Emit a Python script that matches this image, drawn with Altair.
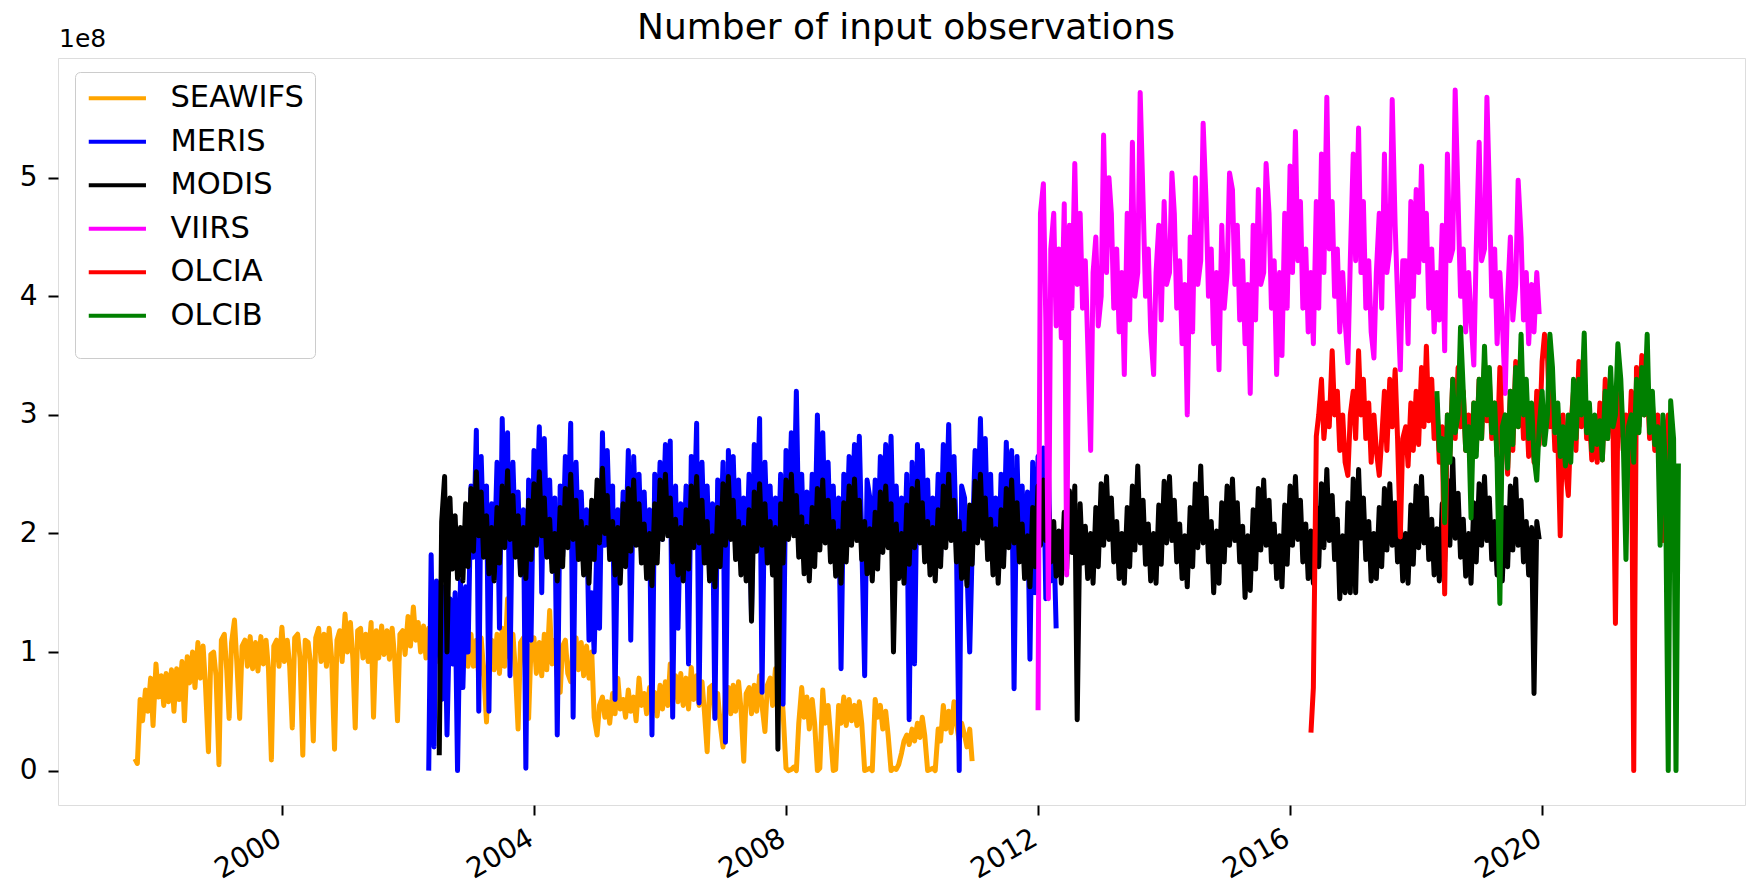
import altair as alt
import pandas as pd

# values in units of 1e6, semi-monthly samples (1st and 15th of each month)
SERIES = ["SEAWIFS", "MERIS", "MODIS", "VIIRS", "OLCIA", "OLCIB"]
COLORS = ["#FFA500", "#0000FF", "#000000", "#FF00FF", "#FF0000", "#008000"]
STARTS = ["1997-09-01", "2002-05-01", "2002-07-01", "2012-01-01", "2016-05-01", "2018-05-01"]

seawifs = [
    10, 6, 60, 42, 68, 50, 78, 38,
    90, 62, 80, 55, 82, 58, 85, 50, 86, 60, 92, 42, 96, 74, 100, 70, 108, 78, 105, 72, 16, 98, 100, 80,
    5, 110, 115, 85, 44, 108, 127, 90, 44, 105, 110, 88, 113, 86, 108, 84, 113, 90, 110, 86, 9, 105, 110, 88,
    121, 92, 110, 88, 36, 112, 115, 95, 13, 110, 108, 90, 25, 112, 120, 92, 115, 88, 120, 95, 18, 110, 118, 92,
    132, 100, 125, 95, 36, 118, 120, 95, 115, 92, 125, 45, 118, 95, 122, 98, 118, 94, 120, 96, 42, 115, 118, 98,
    130, 105, 138, 110, 125, 100, 122, 95, 120, 98, 118, 92, 126, 80, 120, 95, 128, 98, 118, 90, 125, 95, 118, 88,
    115, 88, 110, 80, 112, 85, 41, 105, 110, 85, 115, 82, 120, 88, 145, 95, 115, 85, 35, 108, 112, 82, 44, 105,
    112, 82, 108, 80, 115, 85, 135, 90, 110, 80, 66, 105, 110, 82, 75, 108, 112, 85, 108, 80, 105, 78, 100, 45,
    30, 55, 62, 45, 58, 40, 65, 48, 78, 52, 60, 45, 68, 50, 62, 42, 78, 55, 65, 48, 70, 50, 66, 46,
    72, 52, 75, 55, 90, 60, 80, 58, 82, 55, 78, 52, 87, 60, 80, 55, 75, 50, 16, 70, 72, 45, 65, 40,
    20, 68, 70, 48, 72, 50, 75, 52, 8, 65, 70, 48, 72, 50, 80, 55, 33, 72, 78, 55, 86, 60, 75, 50,
    2, 0, 1, 3, 0, 40, 70, 45, 62, 35, 60, 40, 0, 2, 68, 40, 55, 30, 0, 1, 55, 40, 62, 38,
    60, 42, 55, 38, 58, 40, 0, 1, 2, 0, 60, 45, 55, 35, 50, 30, 0, 2, 1, 5, 15, 25, 30, 22,
    35, 25, 40, 28, 45, 30, 0, 1, 2, 0, 35, 25, 55, 35, 50, 32, 58, 40, 25, 40, 30, 20, 35, 8,
]

meris = [
    0, 182, 20, 160, 130, 60, 155, 30, 145, 90, 150, 0, 160, 70, 155, 100,
    240, 180, 287, 50, 265, 195, 240, 50, 225, 170, 260, 120, 297, 200, 285, 80, 260, 195, 235, 170, 220, 2, 245, 110,
    270, 200, 290, 150, 280, 195, 245, 175, 230, 30, 240, 180, 265, 200, 293, 45, 260, 190, 235, 175, 220, 110, 150, 100,
    200, 120, 285, 190, 270, 200, 240, 60, 220, 165, 235, 180, 270, 110, 265, 200, 250, 185, 235, 170, 220, 30, 250, 185,
    260, 195, 275, 205, 278, 45, 240, 120, 225, 165, 240, 90, 265, 195, 293, 57, 260, 190, 240, 175, 225, 44, 245, 180,
    260, 24, 270, 200, 265, 195, 245, 175, 230, 170, 250, 130, 275, 200, 297, 66, 260, 195, 240, 175, 230, 170, 250, 56,
    270, 205, 285, 210, 320, 200, 250, 180, 235, 170, 250, 185, 300, 200, 285, 205, 260, 190, 240, 175, 230, 86, 250, 185,
    265, 200, 275, 205, 282, 195, 80, 245, 230, 170, 245, 180, 265, 195, 275, 200, 282, 190, 240, 175, 230, 165, 250, 43,
    260, 90, 275, 205, 270, 195, 245, 175, 230, 170, 250, 180, 275, 200, 292, 195, 265, 190, 0, 240, 230, 170, 100, 185,
    270, 205, 297, 210, 280, 195, 250, 175, 230, 165, 250, 180, 277, 200, 270, 69, 265, 190, 240, 175, 235, 94, 260, 150,
    265, 195, 272, 145, 255, 160, 200, 120,
]

modis = [
    13, 210, 248, 100, 230, 170, 215, 162, 205, 160, 225, 172,
    238, 185, 252, 198, 235, 180, 215, 166, 205, 160, 222, 175, 240, 188, 253, 195, 232, 180, 215, 165, 205, 162, 228, 178,
    242, 190, 252, 198, 230, 180, 212, 168, 200, 160, 222, 172, 238, 188, 250, 195, 228, 178, 210, 165, 205, 158, 228, 178,
    245, 192, 255, 200, 232, 178, 210, 165, 205, 158, 225, 172, 238, 185, 245, 190, 225, 175, 208, 162, 200, 156, 225, 175,
    245, 195, 250, 198, 230, 176, 212, 165, 205, 160, 220, 170, 240, 188, 248, 192, 228, 175, 210, 160, 198, 155, 222, 172,
    242, 190, 248, 195, 228, 178, 210, 165, 205, 160, 220, 126, 235, 185, 242, 190, 225, 175, 210, 165, 205, 18, 225, 175,
    245, 195, 250, 198, 232, 180, 214, 166, 206, 160, 222, 172, 238, 186, 245, 192, 228, 176, 210, 164, 202, 158, 226, 176,
    240, 190, 246, 194, 228, 178, 210, 166, 204, 160, 218, 170, 235, 184, 240, 188, 225, 100, 208, 162, 200, 158, 224, 174,
    238, 188, 244, 192, 226, 176, 210, 165, 205, 160, 220, 172, 240, 188, 250, 194, 228, 176, 210, 162, 200, 156, 224, 174,
    244, 192, 250, 196, 230, 178, 212, 165, 204, 158, 220, 172, 238, 188, 245, 192, 226, 176, 208, 162, 198, 155, 222, 172,
    240, 190, 245, 194, 228, 176, 210, 164, 202, 158, 218, 170, 236, 184, 240, 43, 225, 175, 206, 162, 200, 158, 222, 172,
    242, 190, 248, 195, 230, 176, 210, 162, 200, 158, 222, 172, 240, 186, 257, 192, 228, 174, 208, 160, 200, 158, 224, 174,
    244, 192, 248, 194, 228, 176, 208, 162, 198, 155, 222, 172, 242, 188, 257, 192, 230, 176, 210, 150, 202, 158, 226, 176,
    240, 190, 246, 194, 226, 176, 206, 146, 198, 152, 220, 170, 238, 186, 245, 190, 228, 176, 208, 162, 198, 155, 224, 174,
    240, 190, 248, 195, 228, 176, 208, 162, 202, 158, 222, 172, 242, 188, 254, 194, 232, 178, 212, 145, 198, 150, 226, 150,
    246, 150, 254, 196, 230, 178, 210, 160, 200, 162, 222, 172, 238, 186, 242, 190, 226, 176, 208, 160, 200, 158, 224, 174,
    240, 188, 248, 192, 230, 178, 212, 165, 204, 160, 225, 176, 245, 190, 263, 196, 234, 180, 212, 164, 200, 158, 226, 176,
    242, 190, 248, 194, 230, 178, 210, 165, 204, 160, 222, 172, 240, 186, 246, 190, 228, 176, 210, 165, 205, 65, 210, 195,
]

viirs = [
    51, 470, 495, 380, 145, 440, 470, 375, 440, 365, 478, 165, 460, 390, 512, 410, 470, 390, 430, 360, 270, 420, 450, 375,
    400, 536, 420, 500, 470, 390, 440, 370, 420, 334, 470, 380, 530, 400, 420, 572, 480, 400, 440, 370, 334, 420, 460, 380,
    480, 410, 420, 504, 470, 390, 430, 360, 410, 300, 450, 370, 500, 410, 430, 546, 480, 400, 440, 360, 420, 338, 460, 390,
    420, 504, 490, 410, 460, 380, 430, 360, 410, 318, 460, 380, 490, 410, 420, 512, 470, 390, 430, 334, 420, 350, 470, 390,
    510, 420, 539, 430, 480, 390, 440, 370, 420, 360, 480, 390, 520, 420, 568, 440, 480, 400, 440, 370, 420, 380, 344, 430,
    520, 430, 542, 420, 480, 390, 430, 370, 348, 420, 470, 390, 520, 420, 440, 566, 460, 400, 338, 430, 430, 360, 480, 400,
    490, 420, 510, 430, 470, 390, 440, 370, 420, 380, 460, 354, 520, 430, 440, 574, 480, 400, 440, 370, 420, 380, 342, 440,
    530, 430, 440, 568, 490, 400, 440, 360, 420, 380, 318, 400, 450, 380, 410, 498, 450, 380, 420, 360, 410, 370, 420, 385,
]

olcia = [
    32, 70, 282, 300, 330, 280, 310, 290, 354, 300, 320, 270, 300, 260, 249, 300,
    320, 280, 354, 300, 330, 280, 310, 260, 300, 270, 249, 280, 320, 270, 330, 290, 338, 280, 197, 280, 290, 257, 310, 270,
    320, 275, 340, 290, 358, 295, 330, 280, 310, 260, 290, 149, 300, 265, 330, 280, 340, 290, 320, 270, 300, 260, 310, 270,
    330, 280, 345, 295, 330, 280, 310, 265, 340, 280, 290, 250, 320, 270, 345, 290, 330, 280, 310, 265, 300, 260, 320, 275,
    345, 368, 350, 290, 320, 270, 280, 198, 300, 255, 232, 290, 320, 270, 345, 290, 330, 280, 300, 262, 290, 260, 310, 262,
    330, 280, 320, 290, 124, 300, 320, 270, 300, 260, 320, 0, 340, 290, 350, 300, 330, 280, 310, 270, 300, 260, 194, 280,
    300, 240, 257, 230,
]

olcib = [
    320, 270, 280, 209, 300, 260, 330, 285, 300, 374, 320, 270, 290, 213, 310, 265,
    330, 280, 358, 300, 340, 285, 310, 260, 141, 290, 300, 255, 320, 275, 340, 290, 368, 300, 330, 280, 310, 265, 245, 290,
    320, 275, 300, 368, 340, 285, 310, 265, 290, 257, 300, 260, 330, 280, 330, 300, 369, 285, 310, 270, 300, 275, 295, 262,
    320, 280, 340, 290, 300, 360, 330, 280, 178, 290, 300, 260, 330, 285, 340, 300, 368, 285, 320, 275, 290, 190, 300, 260,
    0, 312, 280, 0, 259,
]

VALUES = [seawifs, meris, modis, viirs, olcia, olcib]
YEAR_TICKS = [2000, 2004, 2008, 2012, 2016, 2020]
TITLE = "Number of input observations"
OFFSET_LABEL = "1e8"

FONT = "DejaVu Sans"
PLOT_W, PLOT_H = 1687, 747

color = alt.Color(
    "series:N",
    scale=alt.Scale(domain=SERIES, range=COLORS),
    legend=alt.Legend(
        title=" ",
        titleOrient="bottom",
        titleFontSize=10,
        titlePadding=6,
        orient="none",
        legendX=17,
        legendY=14,
        symbolType="M-1.19,0H4.26",
        symbolSize=441,
        symbolStrokeWidth=4,
        labelFontSize=30.5,
        labelFont=FONT,
        labelColor="black",
        labelOffset=54,
        padding=11,
        rowPadding=12.5,
        fillColor="rgba(255,255,255,0.8)",
        strokeColor="#cccccc",
        cornerRadius=5,
        labelLimit=0,
    ),
)

x_enc = alt.X(
    "date:T",
    scale=alt.Scale(domain=[alt.DateTime(year=1996, month=6, date=12),
                            alt.DateTime(year=2023, month=3, date=22)]),
    axis=alt.Axis(
        values=[alt.DateTime(year=y, month=1, date=1) for y in YEAR_TICKS],
        format="%Y",
        labelAngle=-30,
        labelAlign="right",
        labelBaseline="top",
        labelFontSize=28,
        labelFont=FONT,
        labelColor="black",
        labelPadding=9,
        labelOffset=-10,
        tickSize=10,
        tickWidth=2,
        tickColor="black",
        domain=False,
        grid=False,
        title=None,
    ),
)

y_enc = alt.Y(
    "value:Q",
    scale=alt.Scale(domain=[-0.29e8, 6.01e8], nice=False, zero=False),
    axis=alt.Axis(
        values=[0, 1e8, 2e8, 3e8, 4e8, 5e8],
        labelExpr="format(datum.value / 1e8, 'd')",
        labelFontSize=28,
        labelFont=FONT,
        labelColor="black",
        labelPadding=11,
        tickSize=10,
        tickWidth=2,
        tickColor="black",
        domain=False,
        grid=False,
        title=None,
    ),
)

layers = []
for name, start, vals in zip(SERIES, STARTS, VALUES):
    dates = pd.date_range(start, periods=len(vals), freq="SMS")
    df = pd.DataFrame({"date": dates, "value": [v * 1e6 for v in vals], "series": name})
    layers.append(
        alt.Chart(df)
        .mark_line(strokeWidth=5, strokeJoin="round")
        .encode(x=x_enc, y=y_enc, color=color)
    )

offset_text = (
    alt.Chart(pd.DataFrame({"t": [OFFSET_LABEL]}))
    .mark_text(align="left", baseline="alphabetic", fontSize=25, font=FONT, color="black")
    .encode(x=alt.value(1), y=alt.value(-11), text="t:N")
)

title_text = (
    alt.Chart(pd.DataFrame({"t": [TITLE]}))
    .mark_text(align="center", baseline="alphabetic", fontSize=36, font=FONT, color="black")
    .encode(x=alt.value(848), y=alt.value(-19), text="t:N")
)

chart = (
    alt.layer(*layers, offset_text, title_text)
    .properties(
        width=PLOT_W,
        height=PLOT_H,
        autosize=alt.AutoSizeParams(type="none"),
        padding={"left": 58, "top": 58, "right": 3, "bottom": 83},
    )
    .configure_view(stroke="black", strokeWidth=2)
    .configure(background="white")
)

chart.save("out.html", embed_options={"renderer": "svg", "actions": False})
